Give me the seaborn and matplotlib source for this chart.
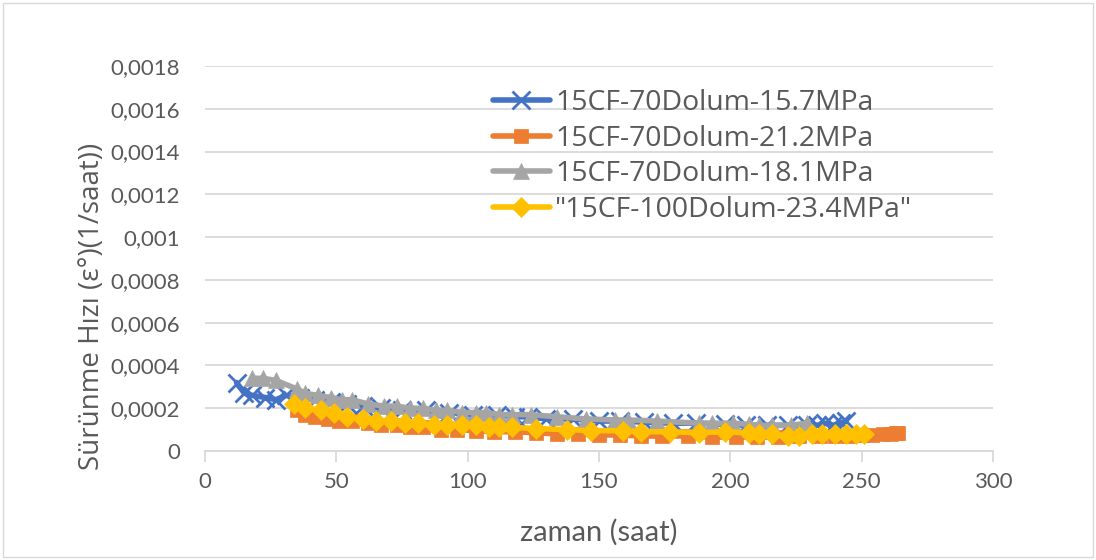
import numpy as np
import pandas as pd
import seaborn as sns
import matplotlib.pyplot as plt
from matplotlib.patches import Rectangle
from matplotlib.ticker import MultipleLocator, FuncFormatter

# --- data ---
labels = ["15CF-70Dolum-15.7MPa", "15CF-70Dolum-21.2MPa",
          "15CF-70Dolum-18.1MPa", '"15CF-100Dolum-23.4MPa"']

t_157 = [12, 15, 18, 23, 27, 31, 36, 42, 48, 54, 60, 67, 75, 84, 93, 102, 111, 118,
         123, 130, 140, 150, 158, 167, 178, 187, 198, 206, 214, 222, 229, 233, 236,
         239, 242, 244]
v_157 = [0.00032, 0.00027, 0.00026, 0.00025, 0.00024, 0.00026, 0.00025, 0.00024,
         0.00023, 0.00022, 0.00021, 0.00020, 0.00019, 0.00019, 0.00018, 0.00017,
         0.00017, 0.00016, 0.00016, 0.00015, 0.00015, 0.00014, 0.00014, 0.000135,
         0.00013, 0.00013, 0.000125, 0.00012, 0.00012, 0.00012, 0.00012, 0.00012,
         0.00013, 0.00012, 0.00013, 0.00014]

t_212 = [35, 38, 42, 47, 51, 56, 62, 67, 73, 78, 83, 90, 96, 103, 110, 118, 126, 134,
         142, 150, 158, 166, 174, 184, 193, 202, 210, 218, 226, 234, 240, 245, 250,
         254, 258, 261, 263, 264]
v_212 = [0.00019, 0.00017, 0.00016, 0.00015, 0.00014, 0.00014, 0.00013, 0.00012,
         0.00012, 0.00011, 0.00011, 0.00010, 0.00010, 0.000095, 0.00009, 0.00009,
         0.000085, 0.00008, 0.00008, 0.000075, 0.000075, 0.00007, 0.00007, 0.00007,
         0.000065, 0.000065, 0.000065, 0.000065, 0.00007, 0.00007, 0.00007, 0.00007,
         0.000075, 0.000075, 0.00008, 0.00008, 0.000085, 0.000085]

t_181 = [18, 22, 27, 35, 38, 43, 48, 52, 56, 62, 68, 73, 78, 83, 88, 92, 98, 103, 107,
         112, 117, 124, 134, 145, 156, 161, 172, 188, 193, 201, 207, 211, 216, 223, 229]
v_181 = [0.00034, 0.00034, 0.00033, 0.00029, 0.00027, 0.00026, 0.00025, 0.00024,
         0.00024, 0.00022, 0.00021, 0.00021, 0.00020, 0.00020, 0.00019, 0.00019,
         0.00018, 0.00018, 0.00018, 0.00017, 0.00017, 0.00017, 0.00016, 0.00015,
         0.000145, 0.000145, 0.00014, 0.00013, 0.00013, 0.00013, 0.000125, 0.00012,
         0.00012, 0.00012, 0.00013]

t_234 = [34, 38, 44, 49, 54, 60, 65, 71, 76, 81, 87, 92, 98, 103, 108, 112, 117, 126,
         138, 147, 159, 166, 177, 188, 198, 207, 211, 216, 222, 226, 231, 235, 240,
         244, 248, 251]
v_234 = [0.00022, 0.00020, 0.00019, 0.00018, 0.00016, 0.00015, 0.00014, 0.00014,
         0.00013, 0.00013, 0.00012, 0.00012, 0.00012, 0.00012, 0.00011, 0.00011,
         0.00011, 0.000105, 0.00010, 0.000095, 0.000095, 0.00009, 0.00009, 0.000085,
         0.00009, 0.000085, 0.00008, 0.00008, 0.00007, 0.00007, 0.00008, 0.00008,
         0.00008, 0.00008, 0.00008, 0.00008]

sns.set_theme(style="white")
plt.rcParams['font.family'] = ['Lato', 'DejaVu Sans']

colors = ['#4472C4', '#ED7D31', '#A5A5A5', '#FFC000']
markers = ['x', 's', '^', 'D']
msizes = [13, 10, 12, 10]
series = [(t_157, v_157), (t_212, v_212), (t_181, v_181), (t_234, v_234)]
txt = '#595959'

fig = plt.figure(figsize=(10.96, 5.6), dpi=100)
ax = fig.add_axes([205/1096, 109/560, 788/1096, 385/560])

for i in range(len(series)):
    df = pd.DataFrame({'t': series[i][0], 'v': series[i][1]})
    sns.lineplot(data=df, x='t', y='v', ax=ax, sort=False, estimator=None,
                 color=colors[i], linewidth=4, marker=markers[i],
                 markersize=msizes[i], markeredgecolor=colors[i],
                 markerfacecolor=colors[i],
                 markeredgewidth=2 if markers[i] == 'x' else 0.5,
                 label=labels[i], zorder=3 + i)

ax.set_xlim(0, 300)
ax.set_ylim(0, 0.0018)
ax.xaxis.set_major_locator(MultipleLocator(50))
ax.yaxis.set_major_locator(MultipleLocator(0.0002))
ax.yaxis.set_major_formatter(FuncFormatter(lambda v, p: '{:g}'.format(round(v, 6)).replace('.', ',')))

ax.yaxis.grid(True, color='#D9D9D9', linewidth=1.3)
ax.xaxis.grid(False)
for s in ['top', 'right', 'left']:
    ax.spines[s].set_visible(False)
ax.spines['bottom'].set_color('#D9D9D9')
ax.spines['bottom'].set_linewidth(1.3)
ax.tick_params(axis='x', direction='out', length=8, width=1.3, color='#D9D9D9',
               labelcolor=txt, labelsize=16, pad=7, bottom=True)
ax.tick_params(axis='y', length=0, labelcolor=txt, labelsize=16, pad=18)
ax.set_xlabel('')
ax.set_ylabel('')

leg = ax.legend(loc='upper left', bbox_to_anchor=(0.3655, 0.94), frameon=False,
                borderpad=0, borderaxespad=0, numpoints=1, handlelength=2.0,
                handletextpad=0.2, labelspacing=0.27,
                prop={'family': ['Open Sans', 'DejaVu Sans'], 'size': 20.4})
for t in leg.get_texts():
    t.set_color(txt)

fig.text(92/1096, 1 - 306/560, 'Sürünme Hızı (ε°)(1/saat))', rotation=90,
         ha='center', va='center', color=txt, fontsize=20,
         family=['Open Sans', 'DejaVu Sans'])
fig.text(599/1096, 1 - 532/560, 'zaman (saat)', ha='center', va='center',
         color=txt, fontsize=21)

fig.patches.append(Rectangle((0.003, 0.005), 0.994, 0.99, transform=fig.transFigure,
                             fill=False, edgecolor='#D9D9D9', linewidth=1))

fig.savefig('out.png', dpi=100)
